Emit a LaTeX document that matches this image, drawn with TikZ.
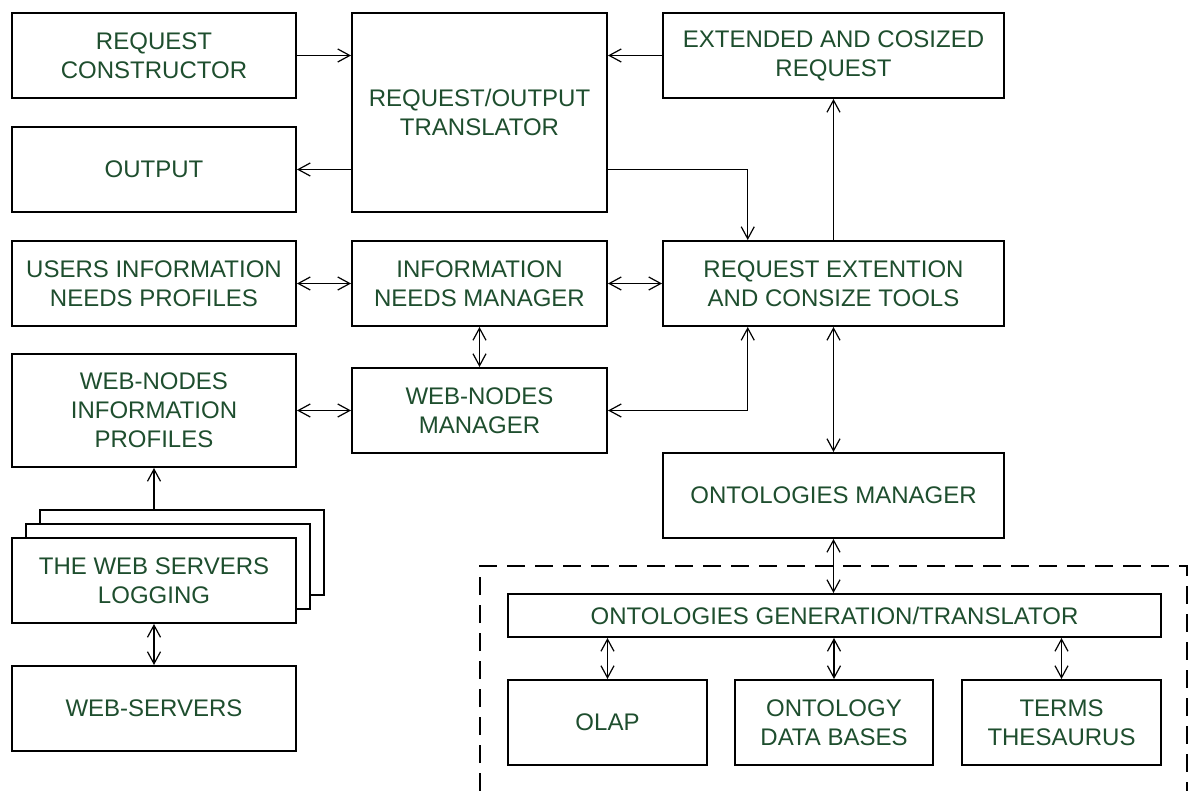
\documentclass[tikz,border=0pt]{standalone}
\usepackage{fontspec}
\setmainfont{Liberation Sans}
\usetikzlibrary{arrows.meta,calc}
\definecolor{txt}{RGB}{30,78,46}
\begin{document}
\begin{tikzpicture}[x=1pt,y=-1pt,
  box/.style={draw, line width=2pt, fill=white, inner sep=0pt, align=center,
    text=txt, font=\fontsize{24}{29}\selectfont},
  sz/.style 2 args={minimum width=#1pt, minimum height=#2pt},
  con/.style={line width=1.2pt},
  >={Straight Barb[length=12pt,width=13pt]}]
\useasboundingbox (0,0) rectangle (1189,791);
% dashed frame
\draw[line width=2pt, dash pattern=on 18pt off 10pt] (480,791) -- (480,566) -- (1187,566) -- (1187,791);
% nodes
\node[box, sz={284}{85}] (rc) at (154,55.5) {REQUEST\\CONSTRUCTOR};
\node[box, sz={284}{85}] (out) at (154,169.5) {OUTPUT};
\node[box, sz={255}{199}] (tr) at (479.5,112.5) {REQUEST/OUTPUT\\TRANSLATOR};
\node[box, sz={341}{85}] (ext) at (833.5,55.5) {EXTENDED AND COSIZED\\REQUEST};
\node[box, sz={284}{85}] (users) at (154,283.5) {USERS INFORMATION\\NEEDS PROFILES};
\node[box, sz={255}{85}] (inm) at (479.5,283.5) {INFORMATION\\NEEDS MANAGER};
\node[box, sz={341}{85}] (rex) at (833.5,283.5) {REQUEST EXTENTION\\AND CONSIZE TOOLS};
\node[box, sz={284}{113}] (wnp) at (154,410.5) {WEB-NODES\\INFORMATION\\PROFILES};
\node[box, sz={255}{85}] (wnm) at (479.5,410.5) {WEB-NODES\\MANAGER};
\node[box, sz={341}{85}] (onm) at (833.5,495.5) {ONTOLOGIES MANAGER};
\node[box, sz={284}{85}] (log3) at (182,552.5) {};
\node[box, sz={284}{85}] (log2) at (168,566.5) {};
\node[box, sz={284}{85}] (log) at (154,580.5) {THE WEB SERVERS\\LOGGING};
\node[box, sz={284}{85}] (ws) at (154,708.5) {WEB-SERVERS};
\node[box, sz={653}{43}] (gen) at (834.5,615.5) {ONTOLOGIES GENERATION/TRANSLATOR};
\node[box, sz={199}{85}] (olap) at (607.5,722.5) {OLAP};
\node[box, sz={198}{85}] (odb) at (834,722.5) {ONTOLOGY\\DATA BASES};
\node[box, sz={199}{85}] (terms) at (1061.5,722.5) {TERMS\\THESAURUS};
\coordinate (qn) at ($(rex.north west)!0.25!(rex.north east)$);
\coordinate (qs) at ($(rex.south west)!0.25!(rex.south east)$);
% connectors
\draw[con,->] (rc.east) -- (rc.east -| tr.west);
\draw[con,->] (ext.west) -- (ext.west -| tr.east);
\draw[con,->] (tr.west |- out.east) -- (out.east);
\draw[con,->] (tr.east |- out.east) -| (qn);
\draw[con,->] (rex.north) -- (ext.south);
\draw[con,<->] (users.east) -- (inm.west);
\draw[con,<->] (inm.east) -- (rex.west);
\draw[con,<->] (inm.south) -- (wnm.north);
\draw[con,<->] (wnp.east) -- (wnm.west);
\draw[con,<->] (wnm.east) -| (qs);
\draw[con,<->] (rex.south) -- (onm.north);
\draw[con,<->] (onm.south) -- (onm.south |- gen.north);
\draw[con,->] (log.north |- log3.north) -- (wnp.south);
\draw[con,<->] (log.south) -- (ws.north);
\draw[con,<->] (olap.north |- gen.south) -- (olap.north);
\draw[con,<->] (odb.north |- gen.south) -- (odb.north);
\draw[con,<->] (terms.north |- gen.south) -- (terms.north);
\end{tikzpicture}
\end{document}
